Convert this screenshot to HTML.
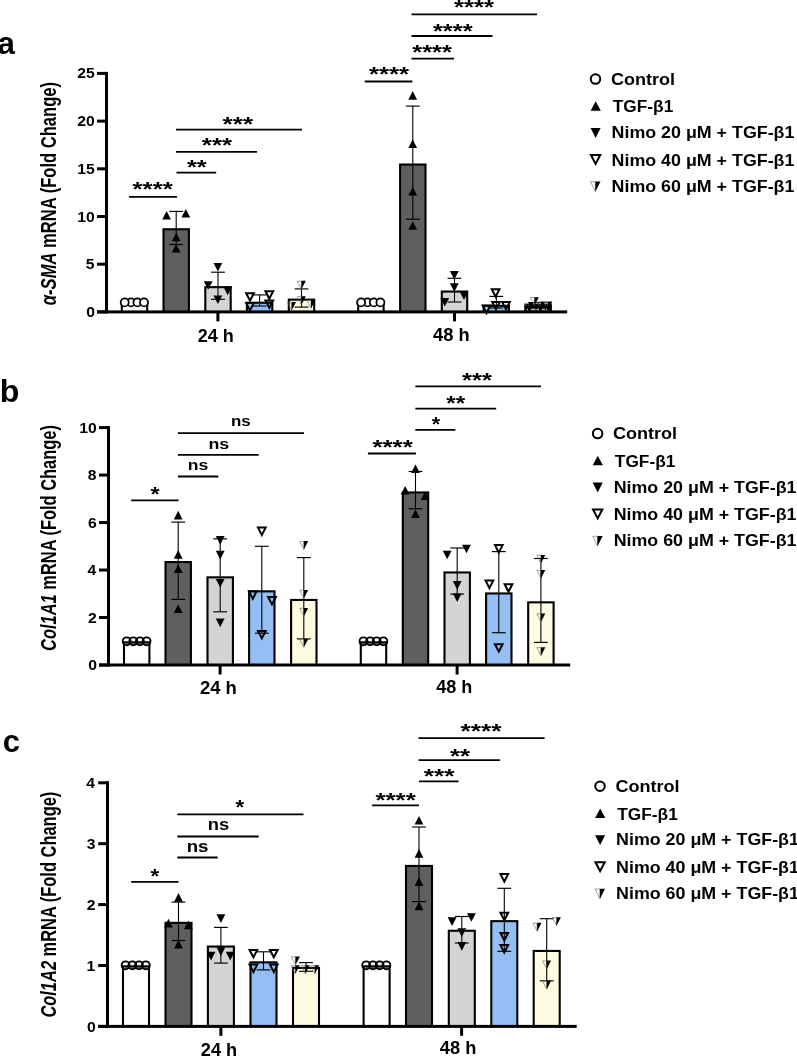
<!DOCTYPE html>
<html><head><meta charset="utf-8"><style>
html,body{margin:0;padding:0;background:#fff;}
svg{display:block;}
text{font-family:'Liberation Sans',sans-serif;font-weight:bold;fill:#000;}
svg{will-change:transform;}
</style></head><body>
<svg width="797" height="1056" viewBox="0 0 797 1056" shape-rendering="geometricPrecision">
<rect width="797" height="1056" fill="#fff"/>
<rect x='120.75' y='302.40' width='27.50' height='9.50' fill='#000'/>
<rect x='122.85' y='304.50' width='23.30' height='7.40' fill='#ffffff'/>
<rect x='162.45' y='228.20' width='27.50' height='83.70' fill='#000'/>
<rect x='164.55' y='230.30' width='23.30' height='81.60' fill='#5f5f5f'/>
<rect x='204.25' y='286.10' width='27.50' height='25.80' fill='#000'/>
<rect x='206.35' y='288.20' width='23.30' height='23.70' fill='#d4d4d4'/>
<rect x='245.85' y='301.70' width='27.50' height='10.20' fill='#000'/>
<rect x='247.95' y='303.80' width='23.30' height='8.10' fill='#94bff5'/>
<rect x='287.75' y='298.60' width='27.50' height='13.30' fill='#000'/>
<rect x='289.85' y='300.70' width='23.30' height='11.20' fill='#fdfbe0'/>
<rect x='357.15' y='302.40' width='27.50' height='9.50' fill='#000'/>
<rect x='359.25' y='304.50' width='23.30' height='7.40' fill='#ffffff'/>
<rect x='399.05' y='163.50' width='27.50' height='148.40' fill='#000'/>
<rect x='401.15' y='165.60' width='23.30' height='146.30' fill='#5f5f5f'/>
<rect x='440.75' y='290.50' width='27.50' height='21.40' fill='#000'/>
<rect x='442.85' y='292.60' width='23.30' height='19.30' fill='#d4d4d4'/>
<rect x='482.55' y='304.80' width='27.50' height='7.10' fill='#000'/>
<rect x='484.65' y='306.90' width='23.30' height='5.00' fill='#94bff5'/>
<rect x='524.35' y='303.80' width='27.50' height='8.10' fill='#000'/>
<rect x='526.45' y='305.90' width='23.30' height='6.00' fill='#fdfbe0'/>
<line x1='176.20' y1='211.40' x2='176.20' y2='244.50' stroke='#000' stroke-width='1.1'/>
<line x1='169.30' y1='211.40' x2='183.10' y2='211.40' stroke='#000' stroke-width='1.15'/>
<line x1='169.30' y1='244.50' x2='183.10' y2='244.50' stroke='#000' stroke-width='1.15'/>
<line x1='218.00' y1='272.20' x2='218.00' y2='299.30' stroke='#000' stroke-width='1.1'/>
<line x1='211.10' y1='272.20' x2='224.90' y2='272.20' stroke='#000' stroke-width='1.15'/>
<line x1='211.10' y1='299.30' x2='224.90' y2='299.30' stroke='#000' stroke-width='1.15'/>
<line x1='259.60' y1='294.90' x2='259.60' y2='306.00' stroke='#000' stroke-width='1.1'/>
<line x1='252.70' y1='294.90' x2='266.50' y2='294.90' stroke='#000' stroke-width='1.15'/>
<line x1='252.70' y1='306.00' x2='266.50' y2='306.00' stroke='#000' stroke-width='1.15'/>
<line x1='301.50' y1='288.90' x2='301.50' y2='307.10' stroke='#000' stroke-width='1.1'/>
<line x1='294.60' y1='288.90' x2='308.40' y2='288.90' stroke='#000' stroke-width='1.15'/>
<line x1='294.60' y1='307.10' x2='308.40' y2='307.10' stroke='#000' stroke-width='1.15'/>
<line x1='412.80' y1='106.10' x2='412.80' y2='219.20' stroke='#000' stroke-width='1.1'/>
<line x1='405.90' y1='106.10' x2='419.70' y2='106.10' stroke='#000' stroke-width='1.15'/>
<line x1='405.90' y1='219.20' x2='419.70' y2='219.20' stroke='#000' stroke-width='1.15'/>
<line x1='454.50' y1='278.30' x2='454.50' y2='302.00' stroke='#000' stroke-width='1.1'/>
<line x1='447.60' y1='278.30' x2='461.40' y2='278.30' stroke='#000' stroke-width='1.15'/>
<line x1='447.60' y1='302.00' x2='461.40' y2='302.00' stroke='#000' stroke-width='1.15'/>
<line x1='496.30' y1='296.40' x2='496.30' y2='308.00' stroke='#000' stroke-width='1.1'/>
<line x1='489.40' y1='296.40' x2='503.20' y2='296.40' stroke='#000' stroke-width='1.15'/>
<line x1='489.40' y1='308.00' x2='503.20' y2='308.00' stroke='#000' stroke-width='1.15'/>
<line x1='538.10' y1='302.60' x2='538.10' y2='306.00' stroke='#000' stroke-width='1.1'/>
<line x1='528.10' y1='302.60' x2='548.10' y2='302.60' stroke='#000' stroke-width='1.15'/>
<line x1='528.10' y1='306.00' x2='548.10' y2='306.00' stroke='#000' stroke-width='1.15'/>
<circle cx='131.00' cy='302.40' r='4.0' fill='#fff' stroke='#000' stroke-width='1.8'/>
<circle cx='124.70' cy='302.40' r='4.0' fill='#fff' stroke='#000' stroke-width='1.8'/>
<circle cx='137.40' cy='302.40' r='4.0' fill='#fff' stroke='#000' stroke-width='1.8'/>
<circle cx='144.00' cy='302.40' r='4.0' fill='#fff' stroke='#000' stroke-width='1.8'/>
<path d='M166.60,210.90L171.00,219.50L162.20,219.50Z' fill='#000'/>
<path d='M185.80,209.00L190.20,217.60L181.40,217.60Z' fill='#000'/>
<path d='M176.20,232.70L180.60,241.30L171.80,241.30Z' fill='#000'/>
<path d='M176.20,244.00L180.60,252.60L171.80,252.60Z' fill='#000'/>
<path d='M213.50,262.90L222.30,262.90L217.90,271.50Z' fill='#000'/>
<path d='M203.80,281.20L212.60,281.20L208.20,289.80Z' fill='#000'/>
<path d='M223.30,286.60L232.10,286.60L227.70,295.20Z' fill='#000'/>
<path d='M213.50,295.40L222.30,295.40L217.90,304.00Z' fill='#000'/>
<path d='M246.15,293.20L253.85,293.20L250.00,300.63Z' fill='none' stroke='#000' stroke-width='2.0' stroke-linejoin='miter' stroke-miterlimit='10'/>
<path d='M265.45,291.30L273.15,291.30L269.30,298.73Z' fill='none' stroke='#000' stroke-width='2.0' stroke-linejoin='miter' stroke-miterlimit='10'/>
<path d='M246.15,303.00L253.85,303.00L250.00,310.43Z' fill='none' stroke='#000' stroke-width='2.0' stroke-linejoin='miter' stroke-miterlimit='10'/>
<path d='M265.45,300.40L273.15,300.40L269.30,307.83Z' fill='none' stroke='#000' stroke-width='2.0' stroke-linejoin='miter' stroke-miterlimit='10'/>
<path d='M297.30,281.10L301.40,281.10L301.40,289.10Z' fill='none' stroke='#777' stroke-width='0.7'/>
<path d='M301.40,280.80L305.80,280.80L301.40,289.40Z' fill='#000'/>
<path d='M297.30,296.60L301.40,296.60L301.40,304.60Z' fill='none' stroke='#777' stroke-width='0.7'/>
<path d='M301.40,296.30L305.80,296.30L301.40,304.90Z' fill='#000'/>
<path d='M287.50,302.20L291.60,302.20L291.60,310.20Z' fill='none' stroke='#777' stroke-width='0.7'/>
<path d='M291.60,301.90L296.00,301.90L291.60,310.50Z' fill='#000'/>
<path d='M306.90,300.20L311.00,300.20L311.00,308.20Z' fill='none' stroke='#777' stroke-width='0.7'/>
<path d='M311.00,299.90L315.40,299.90L311.00,308.50Z' fill='#000'/>
<circle cx='367.40' cy='302.40' r='4.0' fill='#fff' stroke='#000' stroke-width='1.8'/>
<circle cx='361.10' cy='302.40' r='4.0' fill='#fff' stroke='#000' stroke-width='1.8'/>
<circle cx='373.80' cy='302.40' r='4.0' fill='#fff' stroke='#000' stroke-width='1.8'/>
<circle cx='380.40' cy='302.40' r='4.0' fill='#fff' stroke='#000' stroke-width='1.8'/>
<path d='M412.70,91.10L417.10,99.70L408.30,99.70Z' fill='#000'/>
<path d='M412.70,139.50L417.10,148.10L408.30,148.10Z' fill='#000'/>
<path d='M412.70,186.90L417.10,195.50L408.30,195.50Z' fill='#000'/>
<path d='M412.70,221.20L417.10,229.80L408.30,229.80Z' fill='#000'/>
<path d='M449.90,271.00L458.70,271.00L454.30,279.60Z' fill='#000'/>
<path d='M449.90,283.20L458.70,283.20L454.30,291.80Z' fill='#000'/>
<path d='M459.60,291.40L468.40,291.40L464.00,300.00Z' fill='#000'/>
<path d='M440.40,297.90L449.20,297.90L444.80,306.50Z' fill='#000'/>
<path d='M491.75,289.20L499.45,289.20L495.60,296.63Z' fill='none' stroke='#000' stroke-width='2.0' stroke-linejoin='miter' stroke-miterlimit='10'/>
<path d='M492.15,302.00L499.85,302.00L496.00,309.43Z' fill='none' stroke='#000' stroke-width='2.0' stroke-linejoin='miter' stroke-miterlimit='10'/>
<path d='M482.65,305.60L490.35,305.60L486.50,313.03Z' fill='none' stroke='#000' stroke-width='2.0' stroke-linejoin='miter' stroke-miterlimit='10'/>
<path d='M502.15,302.00L509.85,302.00L506.00,309.43Z' fill='none' stroke='#000' stroke-width='2.0' stroke-linejoin='miter' stroke-miterlimit='10'/>
<path d='M530.30,297.50L534.40,297.50L534.40,305.50Z' fill='none' stroke='#777' stroke-width='0.7'/>
<path d='M534.40,297.20L538.80,297.20L534.40,305.80Z' fill='#000'/>
<path d='M536.90,301.90L541.00,301.90L541.00,309.90Z' fill='none' stroke='#777' stroke-width='0.7'/>
<path d='M541.00,301.60L545.40,301.60L541.00,310.20Z' fill='#000'/>
<path d='M543.90,301.90L548.00,301.90L548.00,309.90Z' fill='none' stroke='#777' stroke-width='0.7'/>
<path d='M548.00,301.60L552.40,301.60L548.00,310.20Z' fill='#000'/>
<path d='M524.90,303.30L529.00,303.30L529.00,311.30Z' fill='none' stroke='#777' stroke-width='0.7'/>
<path d='M529.00,303.00L533.40,303.00L529.00,311.60Z' fill='#000'/>
<rect x='524.6' y='305.6' width='26.8' height='5' fill='#000'/>
<g fill='#fff'><rect x='527' y='308.8' width='1' height='1'/><rect x='531' y='308.8' width='4.5' height='0.9'/><rect x='536.5' y='308.8' width='2.5' height='0.9'/><rect x='542' y='308.8' width='3' height='0.9'/><rect x='546' y='308.8' width='1.2' height='0.9'/></g>
<rect x='105.00' y='71.90' width='3.00' height='241.50' fill='#000'/>
<rect x='97.00' y='310.40' width='470.20' height='3.00' fill='#000'/>
<rect x='97.00' y='310.40' width='9.50' height='3.00' fill='#000'/>
<rect x='97.00' y='262.70' width='9.50' height='3.00' fill='#000'/>
<rect x='97.00' y='215.00' width='9.50' height='3.00' fill='#000'/>
<rect x='97.00' y='167.30' width='9.50' height='3.00' fill='#000'/>
<rect x='97.00' y='119.60' width='9.50' height='3.00' fill='#000'/>
<rect x='97.00' y='71.90' width='9.50' height='3.00' fill='#000'/>
<rect x='216.40' y='311.90' width='3.00' height='9.50' fill='#000'/>
<rect x='453.00' y='311.90' width='3.00' height='9.50' fill='#000'/>
<text transform='translate(86.18,316.97) scale(1.0700,1)' font-size='14.70'>0</text>
<text transform='translate(85.86,269.27) scale(1.0700,1)' font-size='14.70'>5</text>
<text transform='translate(77.37,221.57) scale(1.0700,1)' font-size='14.70'>10</text>
<text transform='translate(77.21,173.87) scale(1.0700,1)' font-size='14.70'>15</text>
<text transform='translate(77.37,126.17) scale(1.0700,1)' font-size='14.70'>20</text>
<text transform='translate(77.21,78.47) scale(1.0700,1)' font-size='14.70'>25</text>
<text transform='translate(197.66,342.30) scale(0.9925,1)' font-size='18.20'>24 h</text>
<text transform='translate(433.03,341.00) scale(1.0045,1)' font-size='18.20'>48 h</text>
<text transform='translate(55.70,305.20) rotate(-90) scale(0.7784,1)' font-size='21.30'><tspan style='font-style:italic'>α-SMA</tspan> mRNA (Fold Change)</text>
<line x1='129.00' y1='196.90' x2='177.00' y2='196.90' stroke='#000' stroke-width='1.8'/>
<text transform='translate(132.50,196.47) scale(1.2658,1)' font-size='20.54'>****</text>
<line x1='176.50' y1='172.70' x2='216.20' y2='172.70' stroke='#000' stroke-width='1.8'/>
<text transform='translate(187.00,174.02) scale(1.2358,1)' font-size='20.54'>**</text>
<line x1='176.00' y1='151.80' x2='257.00' y2='151.80' stroke='#000' stroke-width='1.8'/>
<text transform='translate(201.80,151.87) scale(1.2633,1)' font-size='20.54'>***</text>
<line x1='176.00' y1='129.70' x2='302.00' y2='129.70' stroke='#000' stroke-width='1.8'/>
<text transform='translate(222.60,130.57) scale(1.2759,1)' font-size='20.54'>***</text>
<line x1='364.80' y1='81.50' x2='412.30' y2='81.50' stroke='#000' stroke-width='1.8'/>
<text transform='translate(369.00,81.47) scale(1.2564,1)' font-size='20.54'>****</text>
<line x1='411.50' y1='58.60' x2='454.00' y2='58.60' stroke='#000' stroke-width='1.8'/>
<text transform='translate(412.20,58.92) scale(1.2438,1)' font-size='20.54'>****</text>
<line x1='411.50' y1='36.00' x2='492.50' y2='36.00' stroke='#000' stroke-width='1.8'/>
<text transform='translate(432.90,38.42) scale(1.2438,1)' font-size='20.54'>****</text>
<line x1='411.50' y1='14.30' x2='537.10' y2='14.30' stroke='#000' stroke-width='1.8'/>
<text transform='translate(453.90,13.97) scale(1.2501,1)' font-size='20.54'>****</text>
<text transform='translate(-2.44,54.19) scale(1.0015,1)' font-size='31.27'>a</text>
<circle cx='595.50' cy='79.10' r='4.75' fill='none' stroke='#000' stroke-width='2.0'/>
<path d='M595.70,101.20L600.80,110.80L590.60,110.80Z' fill='#000'/>
<path d='M590.60,128.00L600.60,128.00L595.60,137.90Z' fill='#000'/>
<path d='M590.95,155.00L600.25,155.00L595.60,163.85Z' fill='none' stroke='#000' stroke-width='2.0' stroke-linejoin='miter' stroke-miterlimit='10'/>
<path d='M590.60,181.80L595.40,181.80L595.40,191.50Z' fill='none' stroke='#777' stroke-width='0.7'/>
<path d='M595.40,181.50L600.50,181.50L595.40,191.80Z' fill='#000'/>
<text transform='translate(610.88,84.50) scale(1.1143,1)' font-size='16.20'>Control</text>
<text transform='translate(612.73,112.30) scale(1.0687,1)' font-size='16.20'>TGF-β1</text>
<text transform='translate(611.55,138.10) scale(1.1020,1)' font-size='16.20'>Nimo 20 μM + TGF-β1</text>
<text transform='translate(611.55,165.80) scale(1.1020,1)' font-size='16.20'>Nimo 40 μM + TGF-β1</text>
<text transform='translate(611.55,191.80) scale(1.1020,1)' font-size='16.20'>Nimo 60 μM + TGF-β1</text>
<rect x='122.95' y='641.30' width='27.50' height='23.70' fill='#000'/>
<rect x='125.05' y='643.40' width='23.30' height='21.60' fill='#ffffff'/>
<rect x='164.45' y='561.00' width='27.50' height='104.00' fill='#000'/>
<rect x='166.55' y='563.10' width='23.30' height='101.90' fill='#5f5f5f'/>
<rect x='206.45' y='576.30' width='27.50' height='88.70' fill='#000'/>
<rect x='208.55' y='578.40' width='23.30' height='86.60' fill='#d4d4d4'/>
<rect x='248.05' y='590.30' width='27.50' height='74.70' fill='#000'/>
<rect x='250.15' y='592.40' width='23.30' height='72.60' fill='#94bff5'/>
<rect x='290.05' y='598.90' width='27.50' height='66.10' fill='#000'/>
<rect x='292.15' y='601.00' width='23.30' height='64.00' fill='#fdfbe0'/>
<rect x='359.75' y='641.30' width='27.50' height='23.70' fill='#000'/>
<rect x='361.85' y='643.40' width='23.30' height='21.60' fill='#ffffff'/>
<rect x='401.75' y='491.40' width='27.50' height='173.60' fill='#000'/>
<rect x='403.85' y='493.50' width='23.30' height='171.50' fill='#5f5f5f'/>
<rect x='443.45' y='571.40' width='27.50' height='93.60' fill='#000'/>
<rect x='445.55' y='573.50' width='23.30' height='91.50' fill='#d4d4d4'/>
<rect x='485.05' y='592.40' width='27.50' height='72.60' fill='#000'/>
<rect x='487.15' y='594.50' width='23.30' height='70.50' fill='#94bff5'/>
<rect x='527.15' y='601.30' width='27.50' height='63.70' fill='#000'/>
<rect x='529.25' y='603.40' width='23.30' height='61.60' fill='#fdfbe0'/>
<line x1='178.20' y1='522.10' x2='178.20' y2='599.40' stroke='#000' stroke-width='1.1'/>
<line x1='171.30' y1='522.10' x2='185.10' y2='522.10' stroke='#000' stroke-width='1.15'/>
<line x1='171.30' y1='599.40' x2='185.10' y2='599.40' stroke='#000' stroke-width='1.15'/>
<line x1='220.20' y1='538.80' x2='220.20' y2='611.80' stroke='#000' stroke-width='1.1'/>
<line x1='213.30' y1='538.80' x2='227.10' y2='538.80' stroke='#000' stroke-width='1.15'/>
<line x1='213.30' y1='611.80' x2='227.10' y2='611.80' stroke='#000' stroke-width='1.15'/>
<line x1='261.80' y1='546.30' x2='261.80' y2='633.20' stroke='#000' stroke-width='1.1'/>
<line x1='254.90' y1='546.30' x2='268.70' y2='546.30' stroke='#000' stroke-width='1.15'/>
<line x1='254.90' y1='633.20' x2='268.70' y2='633.20' stroke='#000' stroke-width='1.15'/>
<line x1='303.80' y1='557.60' x2='303.80' y2='638.90' stroke='#000' stroke-width='1.1'/>
<line x1='296.90' y1='557.60' x2='310.70' y2='557.60' stroke='#000' stroke-width='1.15'/>
<line x1='296.90' y1='638.90' x2='310.70' y2='638.90' stroke='#000' stroke-width='1.15'/>
<line x1='415.50' y1='471.50' x2='415.50' y2='508.80' stroke='#000' stroke-width='1.1'/>
<line x1='408.60' y1='471.50' x2='422.40' y2='471.50' stroke='#000' stroke-width='1.15'/>
<line x1='408.60' y1='508.80' x2='422.40' y2='508.80' stroke='#000' stroke-width='1.15'/>
<line x1='457.20' y1='548.00' x2='457.20' y2='594.10' stroke='#000' stroke-width='1.1'/>
<line x1='450.30' y1='548.00' x2='464.10' y2='548.00' stroke='#000' stroke-width='1.15'/>
<line x1='450.30' y1='594.10' x2='464.10' y2='594.10' stroke='#000' stroke-width='1.15'/>
<line x1='498.80' y1='551.60' x2='498.80' y2='632.70' stroke='#000' stroke-width='1.1'/>
<line x1='491.90' y1='551.60' x2='505.70' y2='551.60' stroke='#000' stroke-width='1.15'/>
<line x1='491.90' y1='632.70' x2='505.70' y2='632.70' stroke='#000' stroke-width='1.15'/>
<line x1='540.90' y1='558.50' x2='540.90' y2='642.40' stroke='#000' stroke-width='1.1'/>
<line x1='534.00' y1='558.50' x2='547.80' y2='558.50' stroke='#000' stroke-width='1.15'/>
<line x1='534.00' y1='642.40' x2='547.80' y2='642.40' stroke='#000' stroke-width='1.15'/>
<line x1='125.70' y1='644.10' x2='147.70' y2='644.10' stroke='#000' stroke-width='1.1'/>
<circle cx='126.70' cy='641.30' r='4.0' fill='none' stroke='#000' stroke-width='1.8'/>
<circle cx='133.30' cy='641.30' r='4.0' fill='none' stroke='#000' stroke-width='1.8'/>
<circle cx='139.90' cy='641.30' r='4.0' fill='none' stroke='#000' stroke-width='1.8'/>
<circle cx='146.50' cy='641.30' r='4.0' fill='none' stroke='#000' stroke-width='1.8'/>
<path d='M178.20,510.80L182.60,519.40L173.80,519.40Z' fill='#000'/>
<path d='M178.20,550.10L182.60,558.70L173.80,558.70Z' fill='#000'/>
<path d='M178.20,564.40L182.60,573.00L173.80,573.00Z' fill='#000'/>
<path d='M178.20,604.30L182.60,612.90L173.80,612.90Z' fill='#000'/>
<path d='M215.80,536.10L224.60,536.10L220.20,544.70Z' fill='#000'/>
<path d='M215.80,550.80L224.60,550.80L220.20,559.40Z' fill='#000'/>
<path d='M215.80,579.00L224.60,579.00L220.20,587.60Z' fill='#000'/>
<path d='M215.80,618.60L224.60,618.60L220.20,627.20Z' fill='#000'/>
<path d='M257.95,527.60L265.65,527.60L261.80,535.03Z' fill='none' stroke='#000' stroke-width='2.0' stroke-linejoin='miter' stroke-miterlimit='10'/>
<path d='M248.95,591.30L256.65,591.30L252.80,598.73Z' fill='none' stroke='#000' stroke-width='2.0' stroke-linejoin='miter' stroke-miterlimit='10'/>
<path d='M268.15,597.00L275.85,597.00L272.00,604.43Z' fill='none' stroke='#000' stroke-width='2.0' stroke-linejoin='miter' stroke-miterlimit='10'/>
<path d='M257.95,630.90L265.65,630.90L261.80,638.33Z' fill='none' stroke='#000' stroke-width='2.0' stroke-linejoin='miter' stroke-miterlimit='10'/>
<path d='M299.70,541.40L303.80,541.40L303.80,549.40Z' fill='none' stroke='#777' stroke-width='0.7'/>
<path d='M303.80,541.10L308.20,541.10L303.80,549.70Z' fill='#000'/>
<path d='M299.70,590.20L303.80,590.20L303.80,598.20Z' fill='none' stroke='#777' stroke-width='0.7'/>
<path d='M303.80,589.90L308.20,589.90L303.80,598.50Z' fill='#000'/>
<path d='M299.70,608.30L303.80,608.30L303.80,616.30Z' fill='none' stroke='#777' stroke-width='0.7'/>
<path d='M303.80,608.00L308.20,608.00L303.80,616.60Z' fill='#000'/>
<path d='M299.70,639.20L303.80,639.20L303.80,647.20Z' fill='none' stroke='#777' stroke-width='0.7'/>
<path d='M303.80,638.90L308.20,638.90L303.80,647.50Z' fill='#000'/>
<line x1='362.50' y1='644.10' x2='384.50' y2='644.10' stroke='#000' stroke-width='1.1'/>
<circle cx='363.50' cy='641.30' r='4.0' fill='none' stroke='#000' stroke-width='1.8'/>
<circle cx='370.10' cy='641.30' r='4.0' fill='none' stroke='#000' stroke-width='1.8'/>
<circle cx='376.70' cy='641.30' r='4.0' fill='none' stroke='#000' stroke-width='1.8'/>
<circle cx='383.30' cy='641.30' r='4.0' fill='none' stroke='#000' stroke-width='1.8'/>
<path d='M415.50,464.40L419.90,473.00L411.10,473.00Z' fill='#000'/>
<path d='M405.20,485.90L409.60,494.50L400.80,494.50Z' fill='#000'/>
<path d='M425.10,491.40L429.50,500.00L420.70,500.00Z' fill='#000'/>
<path d='M415.50,509.30L419.90,517.90L411.10,517.90Z' fill='#000'/>
<path d='M442.80,550.70L451.60,550.70L447.20,559.30Z' fill='#000'/>
<path d='M462.10,544.70L470.90,544.70L466.50,553.30Z' fill='#000'/>
<path d='M452.80,581.10L461.60,581.10L457.20,589.70Z' fill='#000'/>
<path d='M452.80,593.50L461.60,593.50L457.20,602.10Z' fill='#000'/>
<path d='M494.95,545.10L502.65,545.10L498.80,552.53Z' fill='none' stroke='#000' stroke-width='2.0' stroke-linejoin='miter' stroke-miterlimit='10'/>
<path d='M485.55,580.60L493.25,580.60L489.40,588.03Z' fill='none' stroke='#000' stroke-width='2.0' stroke-linejoin='miter' stroke-miterlimit='10'/>
<path d='M504.65,584.30L512.35,584.30L508.50,591.73Z' fill='none' stroke='#000' stroke-width='2.0' stroke-linejoin='miter' stroke-miterlimit='10'/>
<path d='M494.95,644.20L502.65,644.20L498.80,651.63Z' fill='none' stroke='#000' stroke-width='2.0' stroke-linejoin='miter' stroke-miterlimit='10'/>
<path d='M536.80,555.20L540.90,555.20L540.90,563.20Z' fill='none' stroke='#777' stroke-width='0.7'/>
<path d='M540.90,554.90L545.30,554.90L540.90,563.50Z' fill='#000'/>
<path d='M536.80,570.30L540.90,570.30L540.90,578.30Z' fill='none' stroke='#777' stroke-width='0.7'/>
<path d='M540.90,570.00L545.30,570.00L540.90,578.60Z' fill='#000'/>
<path d='M536.80,613.70L540.90,613.70L540.90,621.70Z' fill='none' stroke='#777' stroke-width='0.7'/>
<path d='M540.90,613.40L545.30,613.40L540.90,622.00Z' fill='#000'/>
<path d='M536.80,647.60L540.90,647.60L540.90,655.60Z' fill='none' stroke='#777' stroke-width='0.7'/>
<path d='M540.90,647.30L545.30,647.30L540.90,655.90Z' fill='#000'/>
<rect x='107.00' y='426.10' width='3.00' height='240.40' fill='#000'/>
<rect x='99.00' y='663.50' width='471.20' height='3.00' fill='#000'/>
<rect x='99.00' y='663.50' width='9.50' height='3.00' fill='#000'/>
<rect x='99.00' y='616.02' width='9.50' height='3.00' fill='#000'/>
<rect x='99.00' y='568.54' width='9.50' height='3.00' fill='#000'/>
<rect x='99.00' y='521.06' width='9.50' height='3.00' fill='#000'/>
<rect x='99.00' y='473.58' width='9.50' height='3.00' fill='#000'/>
<rect x='99.00' y='426.10' width='9.50' height='3.00' fill='#000'/>
<rect x='218.60' y='665.00' width='3.00' height='9.50' fill='#000'/>
<rect x='455.60' y='665.00' width='3.00' height='9.50' fill='#000'/>
<text transform='translate(88.18,670.07) scale(1.0700,1)' font-size='14.70'>0</text>
<text transform='translate(88.02,622.59) scale(1.0700,1)' font-size='14.70'>2</text>
<text transform='translate(87.55,575.11) scale(1.0700,1)' font-size='14.70'>4</text>
<text transform='translate(88.02,527.63) scale(1.0700,1)' font-size='14.70'>6</text>
<text transform='translate(87.86,480.15) scale(1.0700,1)' font-size='14.70'>8</text>
<text transform='translate(79.37,432.67) scale(1.0700,1)' font-size='14.70'>10</text>
<text transform='translate(199.95,694.40) scale(1.0155,1)' font-size='18.20'>24 h</text>
<text transform='translate(436.14,692.80) scale(0.9930,1)' font-size='18.20'>48 h</text>
<text transform='translate(55.80,650.92) rotate(-90) scale(0.7724,1)' font-size='21.30'><tspan style='font-style:italic'>Col1A1</tspan> mRNA (Fold Change)</text>
<line x1='131.20' y1='500.40' x2='178.50' y2='500.40' stroke='#000' stroke-width='1.8'/>
<text transform='translate(150.50,501.27) scale(1.1484,1)' font-size='20.54'>*</text>
<line x1='177.90' y1='476.50' x2='218.30' y2='476.50' stroke='#000' stroke-width='1.8'/>
<text transform='translate(187.67,469.95) scale(1.1401,1)' font-size='15.45'>ns</text>
<line x1='177.90' y1='454.80' x2='258.70' y2='454.80' stroke='#000' stroke-width='1.8'/>
<text transform='translate(208.45,449.35) scale(1.1524,1)' font-size='15.45'>ns</text>
<line x1='177.90' y1='433.20' x2='304.00' y2='433.20' stroke='#000' stroke-width='1.8'/>
<text transform='translate(231.01,425.55) scale(1.0969,1)' font-size='15.45'>ns</text>
<line x1='367.90' y1='453.50' x2='415.90' y2='453.50' stroke='#000' stroke-width='1.8'/>
<text transform='translate(372.40,454.17) scale(1.2658,1)' font-size='20.54'>****</text>
<line x1='415.30' y1='429.80' x2='455.40' y2='429.80' stroke='#000' stroke-width='1.8'/>
<text transform='translate(431.70,431.22) scale(1.0486,1)' font-size='20.54'>*</text>
<line x1='415.30' y1='408.70' x2='496.20' y2='408.70' stroke='#000' stroke-width='1.8'/>
<text transform='translate(446.20,409.87) scale(1.1859,1)' font-size='20.54'>**</text>
<line x1='415.30' y1='386.40' x2='541.00' y2='386.40' stroke='#000' stroke-width='1.8'/>
<text transform='translate(462.00,386.72) scale(1.2507,1)' font-size='20.54'>***</text>
<text transform='translate(-0.25,401.80) scale(1.0355,1)' font-size='31.10'>b</text>
<circle cx='597.60' cy='433.60' r='4.75' fill='none' stroke='#000' stroke-width='2.0'/>
<path d='M597.80,455.70L602.90,465.30L592.70,465.30Z' fill='#000'/>
<path d='M592.70,482.50L602.70,482.50L597.70,492.40Z' fill='#000'/>
<path d='M593.05,509.50L602.35,509.50L597.70,518.35Z' fill='none' stroke='#000' stroke-width='2.0' stroke-linejoin='miter' stroke-miterlimit='10'/>
<path d='M592.70,536.30L597.50,536.30L597.50,546.00Z' fill='none' stroke='#777' stroke-width='0.7'/>
<path d='M597.50,536.00L602.60,536.00L597.50,546.30Z' fill='#000'/>
<text transform='translate(612.98,439.00) scale(1.1143,1)' font-size='16.20'>Control</text>
<text transform='translate(614.83,466.80) scale(1.0687,1)' font-size='16.20'>TGF-β1</text>
<text transform='translate(613.65,492.60) scale(1.1020,1)' font-size='16.20'>Nimo 20 μM + TGF-β1</text>
<text transform='translate(613.65,520.30) scale(1.1020,1)' font-size='16.20'>Nimo 40 μM + TGF-β1</text>
<text transform='translate(613.65,546.30) scale(1.1020,1)' font-size='16.20'>Nimo 60 μM + TGF-β1</text>
<rect x='121.95' y='965.30' width='28.10' height='61.10' fill='#000'/>
<rect x='124.05' y='967.40' width='23.90' height='59.00' fill='#ffffff'/>
<rect x='164.45' y='921.80' width='28.10' height='104.60' fill='#000'/>
<rect x='166.55' y='923.90' width='23.90' height='102.50' fill='#5f5f5f'/>
<rect x='206.85' y='945.50' width='28.10' height='80.90' fill='#000'/>
<rect x='208.95' y='947.60' width='23.90' height='78.80' fill='#d4d4d4'/>
<rect x='249.45' y='961.30' width='28.10' height='65.10' fill='#000'/>
<rect x='251.55' y='963.40' width='23.90' height='63.00' fill='#94bff5'/>
<rect x='291.95' y='966.90' width='28.10' height='59.50' fill='#000'/>
<rect x='294.05' y='969.00' width='23.90' height='57.40' fill='#fdfbe0'/>
<rect x='362.55' y='965.30' width='28.10' height='61.10' fill='#000'/>
<rect x='364.65' y='967.40' width='23.90' height='59.00' fill='#ffffff'/>
<rect x='404.95' y='864.90' width='28.10' height='161.50' fill='#000'/>
<rect x='407.05' y='867.00' width='23.90' height='159.40' fill='#5f5f5f'/>
<rect x='447.75' y='929.70' width='28.10' height='96.70' fill='#000'/>
<rect x='449.85' y='931.80' width='23.90' height='94.60' fill='#d4d4d4'/>
<rect x='490.25' y='920.10' width='28.10' height='106.30' fill='#000'/>
<rect x='492.35' y='922.20' width='23.90' height='104.20' fill='#94bff5'/>
<rect x='532.65' y='949.90' width='28.10' height='76.50' fill='#000'/>
<rect x='534.75' y='952.00' width='23.90' height='74.40' fill='#fdfbe0'/>
<line x1='178.50' y1='902.10' x2='178.50' y2='940.50' stroke='#000' stroke-width='1.1'/>
<line x1='171.60' y1='902.10' x2='185.40' y2='902.10' stroke='#000' stroke-width='1.15'/>
<line x1='171.60' y1='940.50' x2='185.40' y2='940.50' stroke='#000' stroke-width='1.15'/>
<line x1='220.90' y1='927.40' x2='220.90' y2='963.10' stroke='#000' stroke-width='1.1'/>
<line x1='214.00' y1='927.40' x2='227.80' y2='927.40' stroke='#000' stroke-width='1.15'/>
<line x1='214.00' y1='963.10' x2='227.80' y2='963.10' stroke='#000' stroke-width='1.15'/>
<line x1='263.50' y1='951.80' x2='263.50' y2='969.90' stroke='#000' stroke-width='1.1'/>
<line x1='256.60' y1='951.80' x2='270.40' y2='951.80' stroke='#000' stroke-width='1.15'/>
<line x1='256.60' y1='969.90' x2='270.40' y2='969.90' stroke='#000' stroke-width='1.15'/>
<line x1='306.00' y1='962.60' x2='306.00' y2='971.30' stroke='#000' stroke-width='1.1'/>
<line x1='299.10' y1='962.60' x2='312.90' y2='962.60' stroke='#000' stroke-width='1.15'/>
<line x1='299.10' y1='971.30' x2='312.90' y2='971.30' stroke='#000' stroke-width='1.15'/>
<line x1='419.00' y1='827.00' x2='419.00' y2='901.60' stroke='#000' stroke-width='1.1'/>
<line x1='412.10' y1='827.00' x2='425.90' y2='827.00' stroke='#000' stroke-width='1.15'/>
<line x1='412.10' y1='901.60' x2='425.90' y2='901.60' stroke='#000' stroke-width='1.15'/>
<line x1='461.80' y1='916.50' x2='461.80' y2='943.00' stroke='#000' stroke-width='1.1'/>
<line x1='454.90' y1='916.50' x2='468.70' y2='916.50' stroke='#000' stroke-width='1.15'/>
<line x1='454.90' y1='943.00' x2='468.70' y2='943.00' stroke='#000' stroke-width='1.15'/>
<line x1='504.30' y1='888.30' x2='504.30' y2='951.30' stroke='#000' stroke-width='1.1'/>
<line x1='497.40' y1='888.30' x2='511.20' y2='888.30' stroke='#000' stroke-width='1.15'/>
<line x1='497.40' y1='951.30' x2='511.20' y2='951.30' stroke='#000' stroke-width='1.15'/>
<line x1='546.70' y1='918.70' x2='546.70' y2='980.80' stroke='#000' stroke-width='1.1'/>
<line x1='539.80' y1='918.70' x2='553.60' y2='918.70' stroke='#000' stroke-width='1.15'/>
<line x1='539.80' y1='980.80' x2='553.60' y2='980.80' stroke='#000' stroke-width='1.15'/>
<line x1='125.00' y1='968.10' x2='147.00' y2='968.10' stroke='#000' stroke-width='1.1'/>
<circle cx='125.60' cy='965.30' r='4.0' fill='none' stroke='#000' stroke-width='1.8'/>
<circle cx='132.40' cy='965.30' r='4.0' fill='none' stroke='#000' stroke-width='1.8'/>
<circle cx='139.00' cy='965.30' r='4.0' fill='none' stroke='#000' stroke-width='1.8'/>
<circle cx='145.80' cy='965.30' r='4.0' fill='none' stroke='#000' stroke-width='1.8'/>
<path d='M178.50,893.10L182.90,901.70L174.10,901.70Z' fill='#000'/>
<path d='M168.50,918.80L172.90,927.40L164.10,927.40Z' fill='#000'/>
<path d='M188.40,920.60L192.80,929.20L184.00,929.20Z' fill='#000'/>
<path d='M178.50,939.80L182.90,948.40L174.10,948.40Z' fill='#000'/>
<path d='M216.50,914.30L225.30,914.30L220.90,922.90Z' fill='#000'/>
<path d='M206.60,951.80L215.40,951.80L211.00,960.40Z' fill='#000'/>
<path d='M216.50,947.30L225.30,947.30L220.90,955.90Z' fill='#000'/>
<path d='M225.80,951.80L234.60,951.80L230.20,960.40Z' fill='#000'/>
<path d='M249.55,949.90L257.25,949.90L253.40,957.33Z' fill='none' stroke='#000' stroke-width='2.0' stroke-linejoin='miter' stroke-miterlimit='10'/>
<path d='M269.95,949.90L277.65,949.90L273.80,957.33Z' fill='none' stroke='#000' stroke-width='2.0' stroke-linejoin='miter' stroke-miterlimit='10'/>
<path d='M249.55,964.60L257.25,964.60L253.40,972.03Z' fill='none' stroke='#000' stroke-width='2.0' stroke-linejoin='miter' stroke-miterlimit='10'/>
<path d='M269.95,964.60L277.65,964.60L273.80,972.03Z' fill='none' stroke='#000' stroke-width='2.0' stroke-linejoin='miter' stroke-miterlimit='10'/>
<path d='M291.40,956.80L295.50,956.80L295.50,964.80Z' fill='none' stroke='#777' stroke-width='0.7'/>
<path d='M295.50,956.50L299.90,956.50L295.50,965.10Z' fill='#000'/>
<path d='M291.20,965.60L295.30,965.60L295.30,973.60Z' fill='none' stroke='#777' stroke-width='0.7'/>
<path d='M295.30,965.30L299.70,965.30L295.30,973.90Z' fill='#000'/>
<path d='M301.20,965.60L305.30,965.60L305.30,973.60Z' fill='none' stroke='#777' stroke-width='0.7'/>
<path d='M305.30,965.30L309.70,965.30L305.30,973.90Z' fill='#000'/>
<path d='M310.70,965.60L314.80,965.60L314.80,973.60Z' fill='none' stroke='#777' stroke-width='0.7'/>
<path d='M314.80,965.30L319.20,965.30L314.80,973.90Z' fill='#000'/>
<line x1='365.60' y1='968.10' x2='387.60' y2='968.10' stroke='#000' stroke-width='1.1'/>
<circle cx='366.20' cy='965.30' r='4.0' fill='none' stroke='#000' stroke-width='1.8'/>
<circle cx='373.00' cy='965.30' r='4.0' fill='none' stroke='#000' stroke-width='1.8'/>
<circle cx='379.60' cy='965.30' r='4.0' fill='none' stroke='#000' stroke-width='1.8'/>
<circle cx='386.40' cy='965.30' r='4.0' fill='none' stroke='#000' stroke-width='1.8'/>
<path d='M419.00,816.00L423.40,824.60L414.60,824.60Z' fill='#000'/>
<path d='M419.00,849.10L423.40,857.70L414.60,857.70Z' fill='#000'/>
<path d='M419.00,877.30L423.40,885.90L414.60,885.90Z' fill='#000'/>
<path d='M419.00,901.60L423.40,910.20L414.60,910.20Z' fill='#000'/>
<path d='M447.70,917.30L456.50,917.30L452.10,925.90Z' fill='#000'/>
<path d='M467.00,913.20L475.80,913.20L471.40,921.80Z' fill='#000'/>
<path d='M457.40,928.30L466.20,928.30L461.80,936.90Z' fill='#000'/>
<path d='M457.40,942.10L466.20,942.10L461.80,950.70Z' fill='#000'/>
<path d='M500.45,874.10L508.15,874.10L504.30,881.53Z' fill='none' stroke='#000' stroke-width='2.0' stroke-linejoin='miter' stroke-miterlimit='10'/>
<path d='M500.45,912.80L508.15,912.80L504.30,920.23Z' fill='none' stroke='#000' stroke-width='2.0' stroke-linejoin='miter' stroke-miterlimit='10'/>
<path d='M500.45,932.90L508.15,932.90L504.30,940.33Z' fill='none' stroke='#000' stroke-width='2.0' stroke-linejoin='miter' stroke-miterlimit='10'/>
<path d='M500.45,945.10L508.15,945.10L504.30,952.53Z' fill='none' stroke='#000' stroke-width='2.0' stroke-linejoin='miter' stroke-miterlimit='10'/>
<path d='M533.00,923.10L537.10,923.10L537.10,931.10Z' fill='none' stroke='#777' stroke-width='0.7'/>
<path d='M537.10,922.80L541.50,922.80L537.10,931.40Z' fill='#000'/>
<path d='M552.40,917.60L556.50,917.60L556.50,925.60Z' fill='none' stroke='#777' stroke-width='0.7'/>
<path d='M556.50,917.30L560.90,917.30L556.50,925.90Z' fill='#000'/>
<path d='M542.60,960.90L546.70,960.90L546.70,968.90Z' fill='none' stroke='#777' stroke-width='0.7'/>
<path d='M546.70,960.60L551.10,960.60L546.70,969.20Z' fill='#000'/>
<path d='M542.60,981.10L546.70,981.10L546.70,989.10Z' fill='none' stroke='#777' stroke-width='0.7'/>
<path d='M546.70,980.80L551.10,980.80L546.70,989.40Z' fill='#000'/>
<rect x='106.00' y='781.20' width='3.00' height='246.70' fill='#000'/>
<rect x='98.20' y='1024.90' width='478.50' height='3.00' fill='#000'/>
<rect x='98.20' y='1024.90' width='9.30' height='3.00' fill='#000'/>
<rect x='98.20' y='964.00' width='9.30' height='3.00' fill='#000'/>
<rect x='98.20' y='903.10' width='9.30' height='3.00' fill='#000'/>
<rect x='98.20' y='842.20' width='9.30' height='3.00' fill='#000'/>
<rect x='98.20' y='781.30' width='9.30' height='3.00' fill='#000'/>
<rect x='219.40' y='1026.40' width='3.00' height='9.40' fill='#000'/>
<rect x='460.10' y='1026.40' width='3.00' height='9.40' fill='#000'/>
<text transform='translate(86.88,1031.75) scale(1.0150,1)' font-size='15.50'>0</text>
<text transform='translate(86.56,970.85) scale(1.0150,1)' font-size='15.50'>1</text>
<text transform='translate(86.72,909.95) scale(1.0150,1)' font-size='15.50'>2</text>
<text transform='translate(86.72,849.05) scale(1.0150,1)' font-size='15.50'>3</text>
<text transform='translate(86.25,788.15) scale(1.0150,1)' font-size='15.50'>4</text>
<text transform='translate(200.85,1056.20) scale(0.9982,1)' font-size='18.20'>24 h</text>
<text transform='translate(439.84,1053.90) scale(1.0016,1)' font-size='18.20'>48 h</text>
<text transform='translate(56.00,1017.62) rotate(-90) scale(0.7727,1)' font-size='21.30'><tspan style='font-style:italic'>Col1A2</tspan> mRNA (Fold Change)</text>
<line x1='131.20' y1='881.80' x2='178.50' y2='881.80' stroke='#000' stroke-width='1.8'/>
<text transform='translate(150.50,883.12) scale(1.0860,1)' font-size='20.54'>*</text>
<line x1='177.30' y1='857.50' x2='217.70' y2='857.50' stroke='#000' stroke-width='1.8'/>
<text transform='translate(186.69,851.64) scale(1.1801,1)' font-size='15.82'>ns</text>
<line x1='177.30' y1='836.50' x2='258.70' y2='836.50' stroke='#000' stroke-width='1.8'/>
<text transform='translate(207.81,829.63) scale(1.0989,1)' font-size='16.73'>ns</text>
<line x1='177.30' y1='814.30' x2='303.50' y2='814.30' stroke='#000' stroke-width='1.8'/>
<text transform='translate(235.60,814.17) scale(1.0860,1)' font-size='20.54'>*</text>
<line x1='372.10' y1='805.40' x2='419.00' y2='805.40' stroke='#000' stroke-width='1.8'/>
<text transform='translate(375.40,806.77) scale(1.2658,1)' font-size='20.54'>****</text>
<line x1='419.00' y1='781.40' x2='458.50' y2='781.40' stroke='#000' stroke-width='1.8'/>
<text transform='translate(423.70,783.47) scale(1.2843,1)' font-size='20.54'>***</text>
<line x1='418.50' y1='760.20' x2='499.90' y2='760.20' stroke='#000' stroke-width='1.8'/>
<text transform='translate(449.90,762.52) scale(1.2608,1)' font-size='20.54'>**</text>
<line x1='418.50' y1='738.10' x2='544.60' y2='738.10' stroke='#000' stroke-width='1.8'/>
<text transform='translate(460.40,737.77) scale(1.2846,1)' font-size='20.54'>****</text>
<text transform='translate(2.76,751.59) scale(1.0095,1)' font-size='30.73'>c</text>
<circle cx='600.00' cy='786.30' r='4.75' fill='none' stroke='#000' stroke-width='2.0'/>
<path d='M600.20,808.40L605.30,818.00L595.10,818.00Z' fill='#000'/>
<path d='M595.10,835.20L605.10,835.20L600.10,845.10Z' fill='#000'/>
<path d='M595.45,862.20L604.75,862.20L600.10,871.05Z' fill='none' stroke='#000' stroke-width='2.0' stroke-linejoin='miter' stroke-miterlimit='10'/>
<path d='M595.10,889.00L599.90,889.00L599.90,898.70Z' fill='none' stroke='#777' stroke-width='0.7'/>
<path d='M599.90,888.70L605.00,888.70L599.90,899.00Z' fill='#000'/>
<text transform='translate(615.38,791.70) scale(1.1143,1)' font-size='16.20'>Control</text>
<text transform='translate(617.23,819.50) scale(1.0687,1)' font-size='16.20'>TGF-β1</text>
<text transform='translate(616.05,845.30) scale(1.1020,1)' font-size='16.20'>Nimo 20 μM + TGF-β1</text>
<text transform='translate(616.05,873.00) scale(1.1020,1)' font-size='16.20'>Nimo 40 μM + TGF-β1</text>
<text transform='translate(616.05,899.00) scale(1.1020,1)' font-size='16.20'>Nimo 60 μM + TGF-β1</text>
</svg>
</body></html>
